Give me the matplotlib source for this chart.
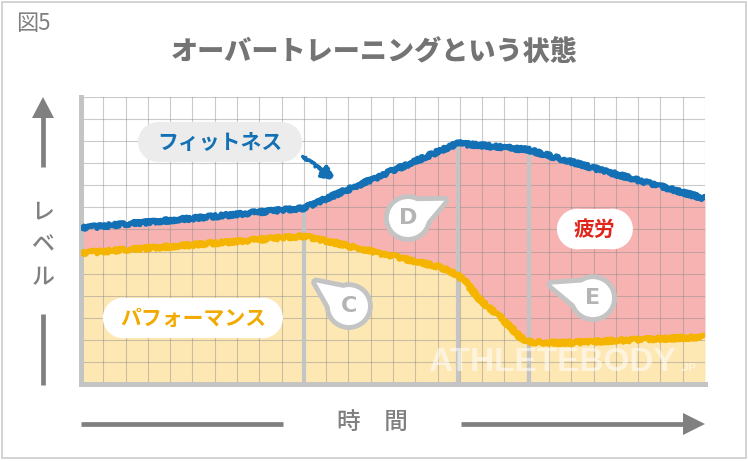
import numpy as np
import matplotlib.pyplot as plt
from matplotlib.patches import Circle, Polygon, Rectangle

plt.rcParams['font.family'] = ['Noto Sans CJK JP', 'DejaVu Sans']

# values (x: time in grid cells, y: level in grid cells)
time = [0, 5, 10, 10.7, 13.4, 16.1, 16.9, 17.3, 17.9, 18.8, 19.7, 20.1, 21.5, 28]
fitness = [7.07, 7.5, 7.97, 8.27, 9.41, 10.56, 10.9, 10.86, 10.81, 10.73, 10.64, 10.6, 10.2, 8.4]
performance = [5.93, 6.3, 6.7, 6.55, 5.93, 5.3, 4.94, 4.57, 3.8, 3.04, 2.13, 1.9, 1.86, 2.13]
phases = [10, 16.9, 20.1]

title = "オーバートレーニングという状態"
fig_label = "図5"
y_label = ["レ", "ベ", "ル"]
x_label = "時　間"

GRAY = "#808080"
LINE_GRAY = "#c4c4c4"
BLUE = "#1470b4"
YELLOW = "#f5b400"
PINK = "#f7b3b1"
CREAM = "#fde8b4"

W, H = 748, 461
fig = plt.figure(figsize=(W / 100, H / 100), dpi=100)

# overlay in pixel coordinates for the frame, title and axis arrows
ov = fig.add_axes([0, 0, 1, 1], zorder=0)
ov.set_xlim(0, W)
ov.set_ylim(H, 0)
ov.axis("off")
ov.add_patch(Rectangle((2, 2), W - 4, H - 5, fill=False, ec="#cccccc", lw=1.2))

ov.text(16, 24, fig_label, fontsize=16, color=GRAY, va="center", ha="left")
ov.text(374, 52, title, fontsize=19.5, fontweight="heavy", color="#747474",
        ha="center", va="center")

# vertical axis arrow
ov.plot([43, 43], [117, 167], color=GRAY, lw=3.4, solid_capstyle="butt")
ov.add_patch(Polygon([(32, 118), (54, 118), (43, 97)], closed=True, color=GRAY, lw=0))
ov.plot([43, 43], [314, 385], color=GRAY, lw=3.4, solid_capstyle="butt")
for ch, yy in zip(y_label, [212, 245, 278]):
    ov.text(43, yy, ch, fontsize=16.5, fontweight="medium", color=GRAY,
            ha="center", va="center")

# horizontal axis arrow
ov.plot([81, 283], [424, 424], color=GRAY, lw=3.4, solid_capstyle="butt")
ov.plot([461, 685], [424, 424], color=GRAY, lw=3.4, solid_capstyle="butt")
ov.add_patch(Polygon([(683, 413), (683, 435), (705, 424)], closed=True, color=GRAY, lw=0))
ov.text(372, 423, x_label, fontsize=17, fontweight="medium", color=GRAY,
        ha="center", va="center")

# main plot area
ax = fig.add_axes([81 / W, (H - 384) / H, 624 / W, 287 / H], zorder=1)
ax.set_xlim(0, 28)
ax.set_ylim(0, 13)
ax.patch.set_alpha(0)
ax.set_xticks(range(29))
ax.set_yticks(range(14))
ax.tick_params(length=0, labelbottom=False, labelleft=False)
ax.set_axisbelow("line")
ax.grid(True, color="#8a8a8a", alpha=0.45, lw=0.8)
for s in ["top", "right"]:
    ax.spines[s].set_visible(False)
for s in ["left", "bottom"]:
    ax.spines[s].set_color(LINE_GRAY)
    ax.spines[s].set_linewidth(3.6)

ax.fill_between(time, 0, performance, color=CREAM, lw=0, zorder=1)
ax.fill_between(time, performance, fitness, color=PINK, lw=0, zorder=1)

tops = np.interp(phases, time, fitness)
ax.vlines(phases, 0, tops, color=LINE_GRAY, lw=3, zorder=1.8)

l1, = ax.plot(time, fitness, color=BLUE, lw=3.8, zorder=3, solid_capstyle="butt")
l2, = ax.plot(time, performance, color=YELLOW, lw=3.8, zorder=3, solid_capstyle="butt")
for ln in (l1, l2):
    ln.set_sketch_params(scale=1.8, length=1.0, randomness=2)

# arrow from the fitness label to the line
arr = ax.annotate("", xy=(11.35, 9.3), xytext=(9.95, 10.3),
                  arrowprops=dict(arrowstyle="-|>,head_length=0.7,head_width=0.4",
                                  color=BLUE, lw=2.6, shrinkA=0, shrinkB=0), zorder=4)
arr.arrow_patch.set_sketch_params(scale=1.2, length=1.0, randomness=2)


def pill(cx, cy, w, h, text, fc, tc):
    ax.add_patch(Circle((cx - w / 2 + h / 2, cy), h / 2, fc=fc, ec="none", zorder=4))
    ax.add_patch(Circle((cx + w / 2 - h / 2, cy), h / 2, fc=fc, ec="none", zorder=4))
    ax.add_patch(Rectangle((cx - w / 2 + h / 2, cy - h / 2), w - h, h, fc=fc, ec="none", zorder=4))
    ax.text(cx, cy, text, fontsize=15, fontweight="bold", color=tc,
            ha="center", va="center", zorder=5)


pill(6.24, 10.96, 7.36, 1.8, "フィットネス", "#ececec", BLUE)
pill(5.02, 2.99, 8.08, 1.84, "パフォーマンス", "white", "#f2a900")
pill(23.06, 7.02, 3.41, 1.84, "疲労", "white", "#e0261c")


def bubble(cx, cy, tx, ty, letter):
    r = 0.86
    ang = np.arctan2(ty - cy, tx - cx)
    pts = [(tx, ty),
           (cx + r * 0.95 * np.cos(ang + 0.75), cy + r * 0.95 * np.sin(ang + 0.75)),
           (cx, cy),
           (cx + r * 0.95 * np.cos(ang - 0.75), cy + r * 0.95 * np.sin(ang - 0.75))]
    ax.add_patch(Polygon(pts, closed=True, fc=LINE_GRAY, ec=LINE_GRAY, lw=7,
                         joinstyle="round", zorder=4))
    ax.add_patch(Circle((cx, cy), r, fc=LINE_GRAY, ec=LINE_GRAY, lw=7, zorder=4))
    ax.add_patch(Polygon(pts, closed=True, fc="white", ec="none", zorder=4.5))
    ax.add_patch(Circle((cx, cy), r, fc="white", ec="none", zorder=4.5))
    ax.text(cx, cy, letter, fontsize=16, fontweight="bold", color="#b4b4b4",
            family="DejaVu Sans", ha="center", va="center", zorder=5)


bubble(12.02, 3.53, 10.55, 4.6, "C")
bubble(14.67, 7.52, 16.3, 8.3, "D")
bubble(22.97, 3.89, 21.1, 4.5, "E")

# watermark
ax.text(15.6, 0.6, "ATHLETEBODY", fontsize=24, fontweight="bold", color="white",
        alpha=0.55, family="Liberation Sans", ha="left", va="baseline", zorder=4)
ax.text(26.85, 0.6, ".JP", fontsize=8, fontweight="bold", color="white",
        alpha=0.55, family="Liberation Sans", ha="left", va="baseline", zorder=4)

fig.savefig("out.png", dpi=100)
